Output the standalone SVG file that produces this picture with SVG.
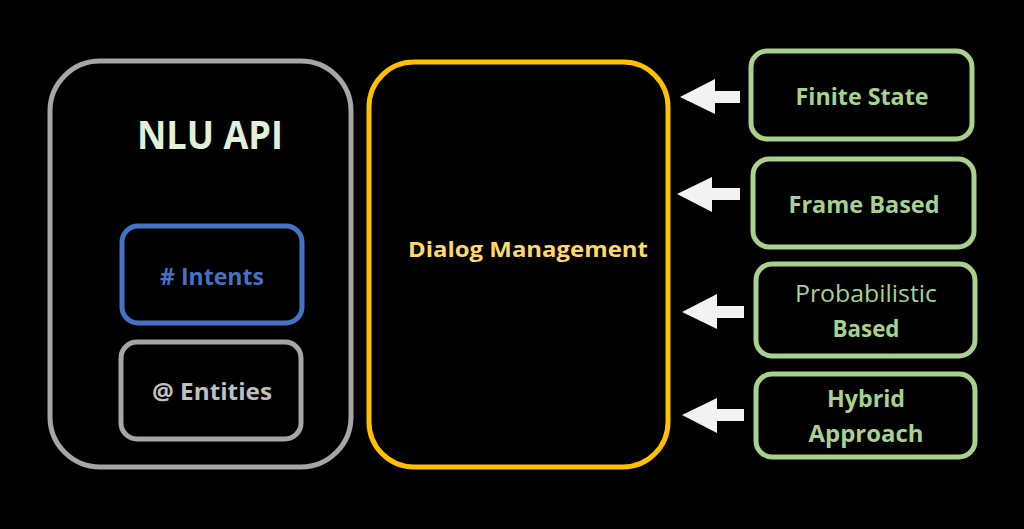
<svg xmlns="http://www.w3.org/2000/svg" width="1024" height="529" viewBox="0 0 1024 529">
<defs>
<style>
.box{fill:#000;stroke-width:5}
.t{font-family:"Open Sans","Liberation Sans",sans-serif;font-weight:bold;text-anchor:middle}
.g{fill:#a9d18e}
.arrow{fill:#f2f2f2}
</style>
</defs>
<rect width="1024" height="529" fill="#000"/>
<g id="nlu">
<rect class="box" x="50" y="61" width="301" height="406" rx="50" stroke="#a6a6a6"/>
<text class="t" x="210" y="149" font-size="39" fill="#e2f0d9" textLength="146" lengthAdjust="spacingAndGlyphs">NLU API</text>
</g>
<g id="intents">
<rect class="box" x="122" y="226" width="180" height="97" rx="16" stroke="#4472c4"/>
<text class="t" x="212" y="285" font-size="24" fill="#4472c4" textLength="104" lengthAdjust="spacingAndGlyphs"># Intents</text>
</g>
<g id="entities">
<rect class="box" x="121" y="342" width="180" height="97" rx="16" stroke="#a6a6a6"/>
<text class="t" x="212" y="400" font-size="24" fill="#bfbfbf" textLength="120" lengthAdjust="spacingAndGlyphs">@ Entities</text>
</g>
<g id="dialog">
<rect class="box" x="369" y="62" width="299" height="405" rx="45" stroke="#ffc000"/>
<text class="t" x="528" y="257" font-size="22" fill="#ffd966" textLength="240" lengthAdjust="spacingAndGlyphs">Dialog Management</text>
</g>
<g id="finite">
<rect class="box" x="751" y="51" width="221" height="88" rx="16" stroke="#a9d18e"/>
<text class="t g" x="862" y="105" font-size="24" textLength="133" lengthAdjust="spacingAndGlyphs">Finite State</text>
</g>
<g id="frame">
<rect class="box" x="753" y="159" width="221" height="88" rx="16" stroke="#a9d18e"/>
<text class="t g" x="864" y="213" font-size="24" textLength="151" lengthAdjust="spacingAndGlyphs">Frame Based</text>
</g>
<g id="probabilistic">
<rect class="box" x="756" y="264" width="219" height="92" rx="16" stroke="#a9d18e"/>
<text class="t g" x="866" y="302" font-size="24" style="font-weight:normal" textLength="142" lengthAdjust="spacingAndGlyphs">Probabilistic</text>
<text class="t g" x="866" y="337" font-size="24" textLength="67" lengthAdjust="spacingAndGlyphs">Based</text>
</g>
<g id="hybrid">
<rect class="box" x="756" y="374" width="219" height="83" rx="16" stroke="#a9d18e"/>
<text class="t g" x="866" y="407" font-size="24" textLength="78" lengthAdjust="spacingAndGlyphs">Hybrid</text>
<text class="t g" x="866" y="442" font-size="24" textLength="115" lengthAdjust="spacingAndGlyphs">Approach</text>
</g>
<g id="connectors">
<polygon class="arrow" points="680,97 715,79 715,91 740,91 740,103 715,103 715,114"/>
<polygon class="arrow" points="677,194 712,177 712,188 740,188 740,200 712,200 712,212"/>
<polygon class="arrow" points="682,312 717,294 717,306 744,306 744,318 717,318 717,329"/>
<polygon class="arrow" points="682,415 717,398 717,409 744,409 744,421 717,421 717,433"/>
</g>
</svg>
